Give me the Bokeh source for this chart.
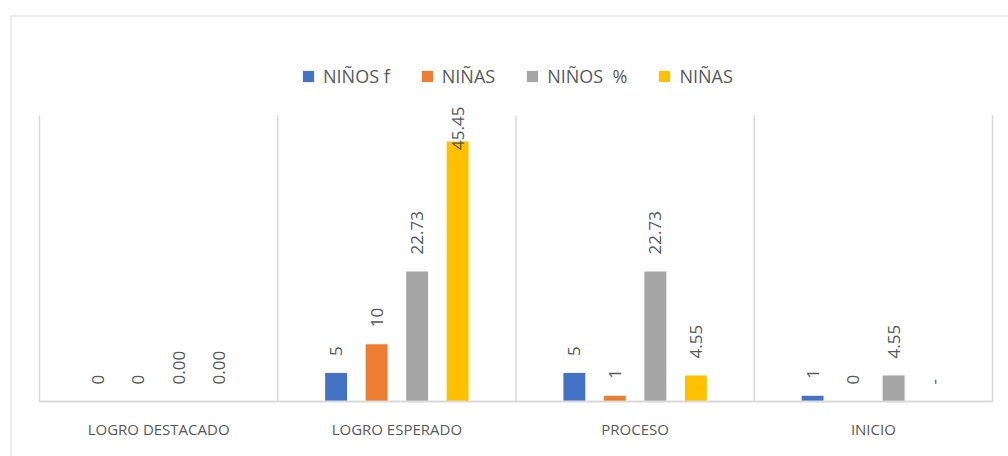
import numpy as np
from bokeh.plotting import figure
from bokeh.models import (Range1d, LinearAxis, FixedTicker, Legend, LegendItem,
                          Span, ColumnDataSource)
from bokeh.core.properties import value
from bokeh.embed import file_html
from bokeh.resources import INLINE

# ---------------- data ----------------
categories = ["LOGRO DESTACADO", "LOGRO ESPERADO", "PROCESO", "INICIO"]
series_names = ["NIÑOS f", "NIÑAS", "NIÑOS  %", "NIÑAS"]
ninos_f = [0, 5, 5, 1]
ninas_f = [0, 10, 1, 0]
ninos_pct = [0.00, 22.73, 22.73, 4.55]
ninas_pct = [0.00, 45.45, 4.55, 0.00]
ninos_f_labels = [str(v) for v in ninos_f]
ninas_f_labels = [str(v) for v in ninas_f]
ninos_pct_labels = [f"{v:.2f}" for v in ninos_pct]
ninas_pct_labels = ["0.00", "45.45", "4.55", "-"]
y_max = 50

# ---------------- style ----------------
colors = ["#4472C4", "#ED7D31", "#A5A5A5", "#FFC000"]
offsets = [-0.255, -0.085, 0.085, 0.255]
bar_width = 0.092
grid_color = "#d9d9d9"
text_color = "#595959"
font = "Open Sans"
label_cap = 41.0

x_start, x_end = -0.1217, len(categories) + 0.0672
y_start, y_end = -9.615, 67.483

p = figure(width=1008, height=456,
           x_range=Range1d(x_start, x_end), y_range=Range1d(y_start, y_end),
           x_axis_type=None, y_axis_type=None,
           output_backend="svg", toolbar_location=None,
           min_border_left=10, min_border_right=0,
           min_border_top=15, min_border_bottom=0)
p.outline_line_color = None
p.background_fill_color = "white"
p.border_fill_color = "white"

# outer chart border (left & top visible)
p.add_layout(Span(location=x_start, dimension="height", line_color=grid_color, line_width=2))
p.add_layout(Span(location=y_end, dimension="width", line_color=grid_color, line_width=2))

# category separators
n = len(categories)
sep_x = list(range(n + 1))
p.segment(x0=sep_x, y0=[0] * (n + 1), x1=sep_x, y1=[y_max] * (n + 1),
          line_color=grid_color, line_width=1.5)

series = [ninos_f, ninas_f, ninos_pct, ninas_pct]
labels = [ninos_f_labels, ninas_f_labels, ninos_pct_labels, ninas_pct_labels]

items = []
for k, (name, vals, labs, color) in enumerate(zip(series_names, series, labels, colors)):
    xs = [i + 0.5 + offsets[k] for i in range(n)]
    src = ColumnDataSource(dict(x=xs, top=vals,
                                ly=list(np.minimum(np.array(vals, dtype=float), label_cap)),
                                lab=labs))
    r = p.vbar(x="x", top="top", bottom=0, width=bar_width, source=src,
               fill_color=color, line_color=None)
    p.text(x="x", y="ly", text="lab", source=src, angle=np.pi / 2,
           text_align="left", text_baseline="middle", y_offset=-17,
           text_color=text_color, text_font=value(font), text_font_size="17px")
    items.append(LegendItem(label=value(name), renderers=[r]))

# category axis at the baseline
xaxis = LinearAxis(fixed_location=0,
                   ticker=FixedTicker(ticks=[i + 0.5 for i in range(n)]),
                   major_label_overrides={i + 0.5: c for i, c in enumerate(categories)},
                   bounds=(0, n))
xaxis.major_tick_line_color = None
xaxis.minor_tick_line_color = None
xaxis.axis_line_color = grid_color
xaxis.axis_line_width = 2
xaxis.major_label_text_font = font
xaxis.major_label_text_font_size = "15px"
xaxis.major_label_text_color = text_color
xaxis.major_label_standoff = 11
p.add_layout(xaxis, "below")

legend = Legend(items=items, orientation="horizontal", location=(291, 368),
                glyph_width=14, glyph_height=14, label_standoff=8, spacing=30,
                padding=5, margin=0, border_line_color=None,
                background_fill_alpha=0,
                label_text_font=font, label_text_font_size="18px",
                label_text_color=text_color)
p.add_layout(legend)

open("out.html", "w").write(file_html(p, INLINE))
